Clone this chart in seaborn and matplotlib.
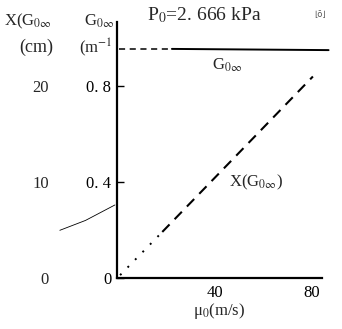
import matplotlib
matplotlib.use("Agg")
import matplotlib.pyplot as plt
import seaborn as sns
import pandas as pd
from matplotlib.lines import Line2D

# values
g_speed = [0, 22, 87]
g_value = [0.955, 0.955, 0.95]
x_dot_speed = [0.5, 18]
x_dot_value = [0.3, 4.8]
x_dash_speed = [18, 80.5]
x_dash_value = [4.8, 21]
g_ticks = [0, 0.4, 0.8]
g_ticklabels = ["0", "0. 4", "0. 8"]
x_ticks = [0, 10, 20]
speed_ticks = [40, 80]

sns.set_style("white")
plt.rcParams["font.family"] = ["Liberation Serif", "DejaVu Serif"]
plt.rcParams["mathtext.fontset"] = "stix"

fs = 12
fig = plt.figure(figsize=(3.42, 3.29), dpi=100)
ax = fig.add_axes([0.342, 0.155, 0.599, 0.778])

g_df = pd.DataFrame({"u": g_speed, "g": g_value})
sns.lineplot(data=g_df.iloc[:2], x="u", y="g", ax=ax, color="black",
             linestyle=(0, (4, 3)), linewidth=1.1)
sns.lineplot(data=g_df.iloc[1:], x="u", y="g", ax=ax, color="black",
             linewidth=1.4)
for ln in ax.lines:
    ln.set_clip_on(False)

ax.set_xlim(-0.8, 84.2)
ax.set_ylim(0, 1.067)
ax.set_xticks(speed_ticks)
ax.set_xticklabels([str(t) for t in speed_ticks], fontsize=fs)
ax.set_yticks(g_ticks)
ax.set_yticklabels(g_ticklabels, fontsize=fs)
ax.tick_params(axis="both", direction="in", length=5, width=1, colors="black",
               pad=4)
ax.tick_params(axis="x", pad=5)
for s in ["top", "right"]:
    ax.spines[s].set_visible(False)
for s in ["left", "bottom"]:
    ax.spines[s].set_color("black")
    ax.spines[s].set_linewidth(1.6)
ax.set_xlabel("μ$_0$(m/s)", fontsize=fs, labelpad=0)
ax.set_ylabel("")

# second scale: X(G0inf) in cm, 25 cm per 1 m^-1
ax2 = ax.twinx()
ax2.set_ylim(0, 1.067 * 25)
ax2.set_xlim(ax.get_xlim())
x_df = pd.DataFrame({"u": x_dot_speed + x_dash_speed,
                     "x": x_dot_value + x_dash_value,
                     "part": ["dot"] * 2 + ["dash"] * 2})
sns.lineplot(data=x_df[x_df.part == "dot"], x="u", y="x", ax=ax2,
             color="black", linestyle=(0, (1, 4.5)), linewidth=1.4)
sns.lineplot(data=x_df[x_df.part == "dash"], x="u", y="x", ax=ax2,
             color="black", linestyle=(0, (5, 3.5)), linewidth=1.5)
ax2.yaxis.tick_left()
ax2.yaxis.set_label_position("left")
ax2.set_yticks(x_ticks)
ax2.set_yticklabels([str(t) for t in x_ticks], fontsize=fs)
ax2.tick_params(axis="y", length=0, pad=49)
for s in ax2.spines.values():
    s.set_visible(False)
ax2.set_ylabel("")
ax2.set_xlabel("")

ax.text(45, 0.885, r"G$_{0\infty}$", fontsize=fs, ha="center", va="center")
ax.text(57, 0.4, r"X(G$_{0\infty}$)", fontsize=fs, ha="center", va="center")

fig.text(0.012, 0.935, r"X(G$_{0\infty}$", fontsize=fs, ha="left", va="center")
fig.text(0.055, 0.855, "(cm)", fontsize=13, ha="left", va="center")
fig.text(0.245, 0.935, r"G$_{0\infty}$", fontsize=fs, ha="left", va="center")
fig.text(0.232, 0.855, r"(m$^{-1}$", fontsize=fs, ha="left", va="center")
fig.text(0.43, 0.955, r"P$_0$=2. 666 kPa", fontsize=14, ha="left", va="center")
fig.text(0.935, 0.955, "⌊ō⌋", fontsize=6, color="#555555", ha="center",
         va="center", family=["DejaVu Sans"])

# stray pen stroke at the left of the scan
fig.add_artist(Line2D([0.175, 0.25, 0.336], [0.30, 0.33, 0.377],
                      color="black", linewidth=0.6))

fig.savefig("out.png", dpi=100)
